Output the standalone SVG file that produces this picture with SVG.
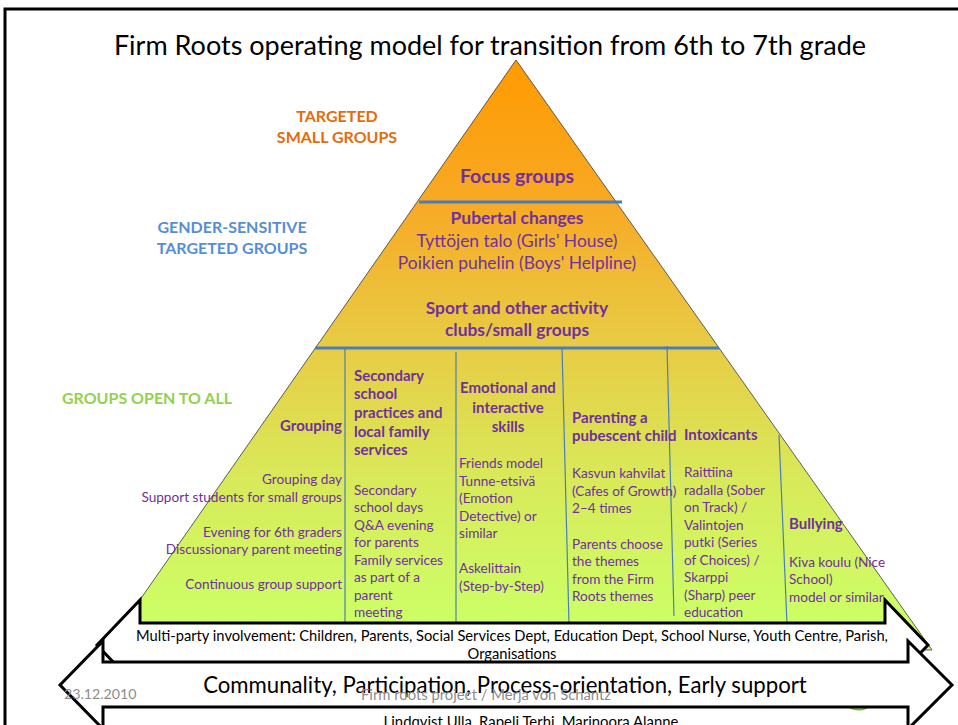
<svg xmlns="http://www.w3.org/2000/svg" width="958" height="725" viewBox="0 0 958 725">
<defs>
<linearGradient id="pyr" gradientUnits="userSpaceOnUse" x1="0" y1="60" x2="0" y2="623">
<stop offset="0" stop-color="#FF9A00"/>
<stop offset="0.25" stop-color="#F8A924"/>
<stop offset="0.5" stop-color="#E8CB44"/>
<stop offset="0.75" stop-color="#D8EA5A"/>
<stop offset="1" stop-color="#CCFF66"/>
</linearGradient>
<style>
text{font-family:Lato,"Liberation Sans",sans-serif}
.p{fill:#7030A0;font-size:13.6px}
.pb{fill:#7030A0;font-size:15px;font-weight:bold}
.band{stroke:#4A7EBB;stroke-width:3}
.col{stroke:#4A7EBB;stroke-width:1.2}
.arrow{fill:#fff;stroke:#000;stroke-width:3;stroke-linejoin:miter}
.grey{fill:#8C8C8C}
</style>
</defs>
<rect width="958" height="725" fill="#fff"/>
<rect x="5" y="9" width="965" height="740" fill="none" stroke="#000" stroke-width="3"/>
<text x="490" y="55" font-size="27" text-anchor="middle" fill="#000">Firm Roots operating model for transition from 6th to 7th grade</text>

<g id="pyramid">
<path d="M516,60 L105,650 L932,650 Z" fill="url(#pyr)" stroke="#3a3a3a" stroke-width="0.8"/>
<path d="M846,706 Q860,716 874,704 Q862,712 846,706 Z" fill="#6CBF2A"/>
</g>

<g id="level-labels" font-weight="bold" text-anchor="middle" font-size="16">
<text x="337" y="122" fill="#E46C0A">TARGETED</text>
<text x="337" y="143" fill="#E46C0A">SMALL GROUPS</text>
<text x="232" y="233" fill="#558ED5">GENDER-SENSITIVE</text>
<text x="232" y="254" fill="#558ED5">TARGETED GROUPS</text>
<text x="147" y="404" fill="#92D050">GROUPS OPEN TO ALL</text>
</g>

<g id="dividers">
<line class="band" x1="419" y1="202" x2="622" y2="202"/>
<line class="band" x1="315" y1="348" x2="719" y2="348"/>
<line class="col" x1="345" y1="347" x2="345" y2="624"/>
<line class="col" x1="456" y1="352" x2="456" y2="624"/>
<line class="col" x1="562" y1="347" x2="569" y2="624"/>
<line class="col" x1="667" y1="346" x2="674" y2="616"/>
<line class="col" x1="779" y1="435" x2="787" y2="624"/>
</g>

<g id="focus-groups">
<text x="517" y="183" fill="#7030A0" font-size="19.5" font-weight="bold" text-anchor="middle">Focus groups</text>
</g>

<g id="gender-groups" text-anchor="middle" fill="#7030A0" font-size="17.4">
<text x="517" y="224" font-weight="bold">Pubertal changes</text>
<text x="517" y="247">Tyttöjen talo (Girls' House)</text>
<text x="517" y="269">Poikien puhelin (Boys' Helpline)</text>
<text x="517" y="314" font-weight="bold">Sport and other activity</text>
<text x="517" y="336" font-weight="bold">clubs/small groups</text>
</g>

<g id="col-grouping" text-anchor="end">
<text class="pb" x="342" y="431">Grouping</text>
<text class="p" x="342" y="484">Grouping day</text>
<text class="p" x="342" y="502">Support students for small groups</text>
<text class="p" x="342" y="537">Evening for 6th graders</text>
<text class="p" x="342" y="554">Discussionary parent meeting</text>
<text class="p" x="342" y="589">Continuous group support</text>
</g>

<g id="col-secondary">
<text class="pb" x="354" y="381">Secondary</text>
<text class="pb" x="354" y="399">school</text>
<text class="pb" x="354" y="418">practices and</text>
<text class="pb" x="354" y="437">local family</text>
<text class="pb" x="354" y="455">services</text>
<text class="p" x="354" y="495">Secondary</text>
<text class="p" x="354" y="512">school days</text>
<text class="p" x="354" y="530">Q&amp;A evening</text>
<text class="p" x="354" y="547">for parents</text>
<text class="p" x="354" y="565">Family services</text>
<text class="p" x="354" y="582">as part of a</text>
<text class="p" x="354" y="600">parent</text>
<text class="p" x="354" y="617">meeting</text>
</g>

<g id="col-emotional">
<text class="pb" x="508" y="393" text-anchor="middle">Emotional and</text>
<text class="pb" x="508" y="413" text-anchor="middle">interactive</text>
<text class="pb" x="508" y="432" text-anchor="middle">skills</text>
<text class="p" x="459" y="468">Friends model</text>
<text class="p" x="459" y="486">Tunne-etsivä</text>
<text class="p" x="459" y="503">(Emotion</text>
<text class="p" x="459" y="521">Detective) or</text>
<text class="p" x="459" y="538">similar</text>
<text class="p" x="459" y="573">Askelittain</text>
<text class="p" x="459" y="591">(Step-by-Step)</text>
</g>

<g id="col-parenting">
<text class="pb" x="572" y="423">Parenting a</text>
<text class="pb" x="572" y="441">pubescent child</text>
<text class="p" x="572" y="478">Kasvun kahvilat</text>
<text class="p" x="572" y="496">(Cafes of Growth)</text>
<text class="p" x="572" y="513">2–4 times</text>
<text class="p" x="572" y="549">Parents choose</text>
<text class="p" x="572" y="566">the themes</text>
<text class="p" x="572" y="584">from the Firm</text>
<text class="p" x="572" y="601">Roots themes</text>
</g>

<g id="col-intoxicants">
<text class="pb" x="684" y="440">Intoxicants</text>
<text class="p" x="684" y="477">Raittiina</text>
<text class="p" x="684" y="495">radalla (Sober</text>
<text class="p" x="684" y="512">on Track) /</text>
<text class="p" x="684" y="530">Valintojen</text>
<text class="p" x="684" y="547">putki (Series</text>
<text class="p" x="684" y="565">of Choices) /</text>
<text class="p" x="684" y="582">Skarppi</text>
<text class="p" x="684" y="600">(Sharp) peer</text>
<text class="p" x="684" y="617">education</text>
</g>

<g id="col-bullying">
<text class="pb" x="789" y="529">Bullying</text>
<text class="p" x="789" y="567">Kiva koulu (Nice</text>
<text class="p" x="789" y="584">School)</text>
<text class="p" x="789" y="602">model or similar</text>
</g>

<g id="connectors">
<g id="arrow-involvement">
<path class="arrow" d="M97,645 L140,600 L140,623 L885,623 L885,600 L928,645 L885,690 L885,667 L140,667 L140,690 Z"/>
<text x="512" y="641" font-size="14.7" text-anchor="middle" fill="#000">Multi-party involvement: Children, Parents, Social Services Dept, Education Dept, School Nurse, Youth Centre, Parish,</text>
<text x="512" y="659" font-size="14.7" text-anchor="middle" fill="#000">Organisations</text>
</g>
<g id="arrow-principles">
<path class="arrow" d="M60,685 L103,641 L103,662 L908,662 L908,641 L952,685 L908,729 L908,707 L103,707 L103,729 Z"/>
<text x="505" y="693" font-size="22.2" text-anchor="middle" fill="#000">Communality, Participation, Process-orientation, Early support</text>
</g>
</g>

<g id="footer">
<text class="grey" x="64" y="699" font-size="14.2">23.12.2010</text>
<text class="grey" x="486" y="700" font-size="14.8" text-anchor="middle">Firm roots project / Merja von Schantz</text>
<text x="531" y="727" font-size="14.9" text-anchor="middle" fill="#000">Lindqvist Ulla, Rapeli Terhi, Marinoora Alanne</text>
</g>
</svg>
